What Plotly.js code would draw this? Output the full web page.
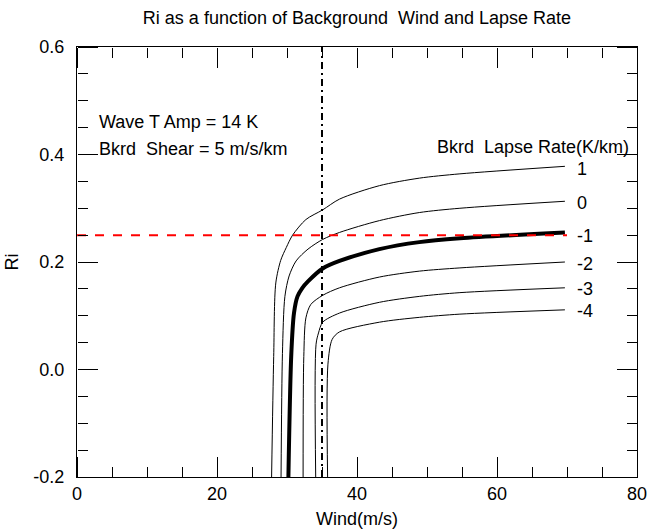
<!DOCTYPE html>
<html>
<head>
<meta charset="utf-8">
<script src="https://cdn.plot.ly/plotly-3.0.1.min.js"></script>
<style>html,body{margin:0;padding:0;background:#fff;}#chart{width:648px;height:529px;}</style>
</head>
<body>
<div id="chart"></div>
<script>
// Lapse-rate labels (K/km)
const lapseLabels = ['1', '0', '-1', '-2', '-3', '-4'];

// Curves: wind (m/s) and Ri
const windL1 = [27.8, 28.1, 28.4, 29.1, 29.9, 30.8, 32.7, 35.1, 37.5, 43.2, 48.9, 54.7, 69.7];
const riL1   = [-0.2, 0.024, 0.161, 0.203, 0.227, 0.250, 0.279, 0.297, 0.317, 0.342, 0.356, 0.364, 0.378];

const windL0 = [29.15, 29.35, 29.7, 30.3, 31.3, 33.0, 35.1, 37.5, 43.2, 48.9, 54.7, 69.7];
const riL0   = [-0.2, 0.030, 0.136, 0.174, 0.202, 0.224, 0.242, 0.255, 0.277, 0.292, 0.300, 0.313];

const windLm1 = [30.2, 30.6, 31.0, 31.5, 32.2, 33.0, 35.1, 37.5, 43.2, 48.9, 54.7, 69.7];
const riLm1   = [-0.2, 0.024, 0.105, 0.136, 0.152, 0.164, 0.188, 0.202, 0.224, 0.237, 0.244, 0.255];

const windLm2 = [32.3, 32.4, 32.7, 33.4, 35.1, 37.5, 43.2, 48.9, 54.7, 69.7];
const riLm2   = [-0.2, 0.024, 0.096, 0.121, 0.138, 0.152, 0.172, 0.183, 0.189, 0.200];

const windLm3 = [34.1, 34.15, 34.5, 35.1, 37.5, 43.2, 48.9, 54.7, 69.7];
const riLm3   = [-0.2, 0.047, 0.068, 0.088, 0.105, 0.125, 0.136, 0.143, 0.152];

const windLm4 = [35.8, 35.85, 36.45, 37.5, 43.2, 48.9, 54.7, 69.7];
const riLm4   = [-0.2, 0.010, 0.056, 0.070, 0.088, 0.097, 0.103, 0.111];

// Label positions for each curve (y in Ri units)
const labelRi = [0.373, 0.309, 0.248, 0.196, 0.149, 0.108];
const labelWind = 71.1;

// Reference lines
const criticalRi = 0.25;
const riLineWind = [0, 70];
const refWind = 35;
const refWindRi = [-0.2, 0.6];

// Axis ticks
const xTickVals = [0, 20, 40, 60, 80];
const yTickVals = [-0.2, 0.0, 0.2, 0.4, 0.6];
const yTickText = ['-0.2', '0.0', '0.2', '0.4', '0.6'];
const xMajorStep = 20, xMinorStep = 5;
const yMajorStep = 0.2, yMinorStep = 0.05;
const xRange = [0, 80];
const yRange = [-0.2, 0.6];

const FONT = 'Liberation Sans, Arial, Helvetica, sans-serif';

const curveW = [windL1, windL0, windLm1, windLm2, windLm3, windLm4];
const curveR = [riL1, riL0, riLm1, riLm2, riLm3, riLm4];

const traces = [];
curveW.forEach((w, i) => {
  traces.push({
    x: w, y: curveR[i], mode: 'lines', type: 'scatter',
    line: {color: 'black', width: lapseLabels[i] === '-1' ? 4 : 1, shape: 'spline', smoothing: 0.8},
    hoverinfo: 'skip', showlegend: false
  });
});
traces.push({
  x: riLineWind, y: [criticalRi, criticalRi], mode: 'lines', type: 'scatter',
  line: {color: '#ff0000', width: 2, dash: '9px,9px'}, showlegend: false, hoverinfo: 'skip'
});
traces.push({
  x: [refWind, refWind], y: refWindRi, mode: 'lines', type: 'scatter',
  line: {color: 'black', width: 2, dash: '7px,4px,2px,4px'}, showlegend: false, hoverinfo: 'skip'
});

// Tick-only axes (outside ticks on a free axis placed on the opposite edge point into the plot)
const tickAxisBase = {showticklabels: false, showline: false, showgrid: false, zeroline: false,
  ticks: 'outside', tickwidth: 1, tickcolor: 'black', anchor: 'free', tickmode: 'linear'};
const xTickAxes = [
  {side: 'top', position: 0, dtick: xMajorStep, ticklen: 20},
  {side: 'top', position: 0, dtick: xMinorStep, ticklen: 10},
  {side: 'bottom', position: 1, dtick: xMajorStep, ticklen: 20},
  {side: 'bottom', position: 1, dtick: xMinorStep, ticklen: 10}
];
const yTickAxes = [
  {side: 'right', position: 0, dtick: yMajorStep, ticklen: 20},
  {side: 'right', position: 0, dtick: yMinorStep, ticklen: 10},
  {side: 'left', position: 1, dtick: yMajorStep, ticklen: 20},
  {side: 'left', position: 1, dtick: yMinorStep, ticklen: 10}
];

const layout = {
  width: 648, height: 529,
  margin: {l: 77, r: 11, t: 47, b: 52, pad: 0},
  paper_bgcolor: 'white', plot_bgcolor: 'white',
  font: {family: FONT, size: 18, color: 'black'},
  title: {
    text: 'Ri as a function of Background\u00a0 Wind and Lapse Rate',
    font: {family: FONT, size: 18, color: 'black'},
    x: 0.5, xref: 'paper', y: 1 - 18 / 529, yref: 'container', yanchor: 'middle'
  },
  xaxis: {
    range: xRange, tickmode: 'array', tickvals: xTickVals, ticks: '',
    showline: true, linecolor: 'black', linewidth: 1, mirror: true,
    showgrid: false, zeroline: false,
    tickfont: {family: FONT, size: 18, color: 'black'},
    title: {text: 'Wind(m/s)', font: {family: FONT, size: 18, color: 'black'}, standoff: 10}
  },
  yaxis: {
    range: yRange, tickmode: 'array', tickvals: yTickVals, ticktext: yTickText, ticks: '',
    ticklabelstandoff: 8,
    showline: true, linecolor: 'black', linewidth: 1, mirror: true,
    showgrid: false, zeroline: false,
    tickfont: {family: FONT, size: 18, color: 'black'},
    title: {text: 'Ri', font: {family: FONT, size: 18, color: 'black'}, standoff: 10}
  },
  showlegend: false
};

xTickAxes.forEach((a, i) => {
  const name = 'xaxis' + (i + 2);
  layout[name] = Object.assign({}, tickAxisBase, a, {overlaying: 'x', range: xRange, tick0: xRange[0]});
  traces.push({x: [xRange[0]], y: [yRange[0]], xaxis: 'x' + (i + 2), yaxis: 'y', mode: 'markers',
    type: 'scatter', marker: {opacity: 0}, showlegend: false, hoverinfo: 'skip'});
});
yTickAxes.forEach((a, i) => {
  const name = 'yaxis' + (i + 2);
  layout[name] = Object.assign({}, tickAxisBase, a, {overlaying: 'y', range: yRange, tick0: yRange[0]});
  traces.push({x: [xRange[0]], y: [yRange[0]], xaxis: 'x', yaxis: 'y' + (i + 2), mode: 'markers',
    type: 'scatter', marker: {opacity: 0}, showlegend: false, hoverinfo: 'skip'});
});

const annotations = lapseLabels.map((t, i) => ({
  x: labelWind, y: labelRi[i], xref: 'x', yref: 'y', text: t, showarrow: false,
  xanchor: 'left', yanchor: 'middle', font: {family: FONT, size: 18, color: 'black'}
}));
annotations.push({
  x: 2.9, y: 0.461, xref: 'x', yref: 'y', text: 'Wave T Amp = 14 K', showarrow: false,
  xanchor: 'left', yanchor: 'middle', font: {family: FONT, size: 18, color: 'black'}
});
annotations.push({
  x: 2.9, y: 0.410, xref: 'x', yref: 'y', text: 'Bkrd\u00a0 Shear = 5 m/s/km', showarrow: false,
  xanchor: 'left', yanchor: 'middle', font: {family: FONT, size: 18, color: 'black'}
});
annotations.push({
  x: 51.2, y: 0.4145, xref: 'x', yref: 'y', text: 'Bkrd\u00a0 Lapse Rate(K/km)', showarrow: false,
  xanchor: 'left', yanchor: 'middle', font: {family: FONT, size: 18, color: 'black'}
});
layout.annotations = annotations;

Plotly.newPlot('chart', traces, layout, {displayModeBar: false});
</script>
</body>
</html>
